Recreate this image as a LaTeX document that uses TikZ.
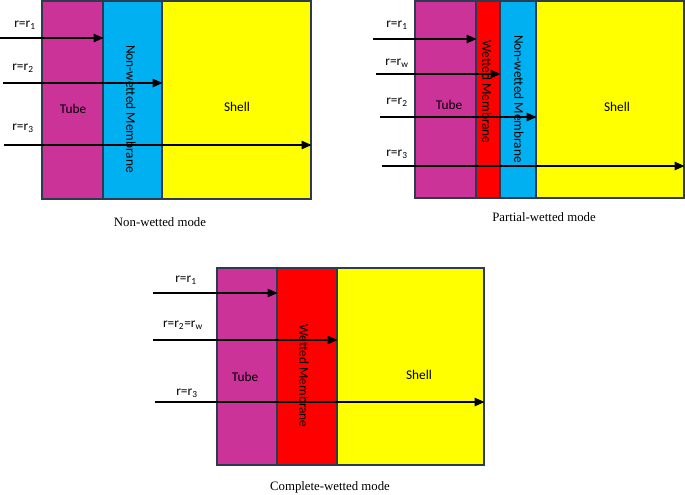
\documentclass[tikz,border=0pt]{standalone}
\usepackage{fontspec}
\setmainfont{Liberation Serif}
\newfontfamily\calib{Carlito}
\usetikzlibrary{arrows.meta,fit}
\definecolor{tubec}{RGB}{204,51,153}
\definecolor{nwc}{RGB}{0,176,240}
\definecolor{shellc}{RGB}{255,255,0}
\definecolor{wc}{RGB}{255,0,0}
\definecolor{edgec}{RGB}{44,58,82}
\tikzset{
  region/.style={draw=edgec, line width=1.1pt, inner sep=0pt},
  lbl/.style={font=\calib\fontsize{10}{12}\selectfont, inner sep=0pt},
  vlbl/.style={lbl, rotate=-90},
  capt/.style={font=\fontsize{9.6}{11}\selectfont, inner sep=0pt},
  arr/.style={line width=1.6pt, -{Triangle[length=7.5pt,width=6pt]}}
}
\begin{document}
\begin{tikzpicture}[x=0.75pt,y=-0.75pt]
\useasboundingbox (0,0) rectangle (685,494);
% ---------- Non-wetted mode ----------
\node[region, fill=tubec, fit={(42,1) (103,199)}] (a-tube) {};
\node[region, fill=nwc, fit={(103,1) (162,199)}] (a-nw) {};
\node[region, fill=shellc, fit={(162,1) (311,199)}] (a-shell) {};
\node[lbl] (a-tubet) at (73,109) {Tube};
\node[lbl] (a-shellt) at (237,107) {Shell};
\node[vlbl] (a-nwt) at (131,109) {Non-wetted Membrane};
\node[lbl] (a-l1) at (25,25) {r=r\textsubscript{1}};
\node[lbl] (a-l2) at (23,68) {r=r\textsubscript{2}};
\node[lbl] (a-l3) at (23,128) {r=r\textsubscript{3}};
\coordinate (a-s1) at (0,38);
\coordinate (a-s2) at (3,83);
\coordinate (a-s3) at (4,145);
\draw[arr] (a-s1) -- (a-s1 -| a-tube.east);
\draw[arr] (a-s2) -- (a-s2 -| a-nw.east);
\draw[arr] (a-s3) -- (a-s3 -| a-shell.east);
\node[capt] (a-cap) at (160,222) {Non-wetted mode};
% ---------- Partial-wetted mode ----------
\node[region, fill=tubec, fit={(415,1) (476,198)}] (b-tube) {};
\node[region, fill=wc, fit={(476,1) (500,198)}] (b-w) {};
\node[region, fill=nwc, fit={(500,1) (536,198)}] (b-nw) {};
\node[region, fill=shellc, fit={(536,1) (684,198)}] (b-shell) {};
\node[lbl] (b-tubet) at (449,105) {Tube};
\node[lbl] (b-shellt) at (617,107) {Shell};
\node[vlbl] (b-wt) at (487,92) {Wetted Membrane};
\node[vlbl] (b-nwt) at (519,99) {Non-wetted Membrane};
\node[lbl] (b-l1) at (397,25) {r=r\textsubscript{1}};
\node[lbl] (b-lw) at (397,63) {r=r\textsubscript{w}};
\node[lbl] (b-l2) at (397,102) {r=r\textsubscript{2}};
\node[lbl] (b-l3) at (397,154) {r=r\textsubscript{3}};
\coordinate (b-s1) at (373,39);
\coordinate (b-sw) at (376,74);
\coordinate (b-s2) at (380,117);
\coordinate (b-s3) at (382,166);
\draw[arr] (b-s1) -- (b-s1 -| b-tube.east);
\draw[arr] (b-sw) -- (b-sw -| b-w.east);
\draw[arr] (b-s2) -- (b-s2 -| b-nw.east);
\draw[arr] (b-s3) -- (b-s3 -| b-shell.east);
\node[capt] (b-cap) at (544,217) {Partial-wetted mode};
% ---------- Complete-wetted mode ----------
\node[region, fill=tubec, fit={(217,268) (277,465)}] (c-tube) {};
\node[region, fill=wc, fit={(277,268) (337,465)}] (c-w) {};
\node[region, fill=shellc, fit={(337,268) (484,465)}] (c-shell) {};
\node[lbl] (c-tubet) at (245,377) {Tube};
\node[lbl] (c-shellt) at (419,375) {Shell};
\node[vlbl] (c-wt) at (304,376) {Wetted Membrane};
\node[lbl] (c-l1) at (186,280) {r=r\textsubscript{1}};
\node[lbl] (c-l2) at (183,325) {r=r\textsubscript{2}=r\textsubscript{w}};
\node[lbl] (c-l3) at (187,393) {r=r\textsubscript{3}};
\coordinate (c-s1) at (153,293);
\coordinate (c-s2) at (153,340);
\coordinate (c-s3) at (155,402);
\draw[arr] (c-s1) -- (c-s1 -| c-tube.east);
\draw[arr] (c-s2) -- (c-s2 -| c-w.east);
\draw[arr] (c-s3) -- (c-s3 -| c-shell.east);
\node[capt] (c-cap) at (330,487) {Complete-wetted mode};
\end{tikzpicture}
\end{document}
